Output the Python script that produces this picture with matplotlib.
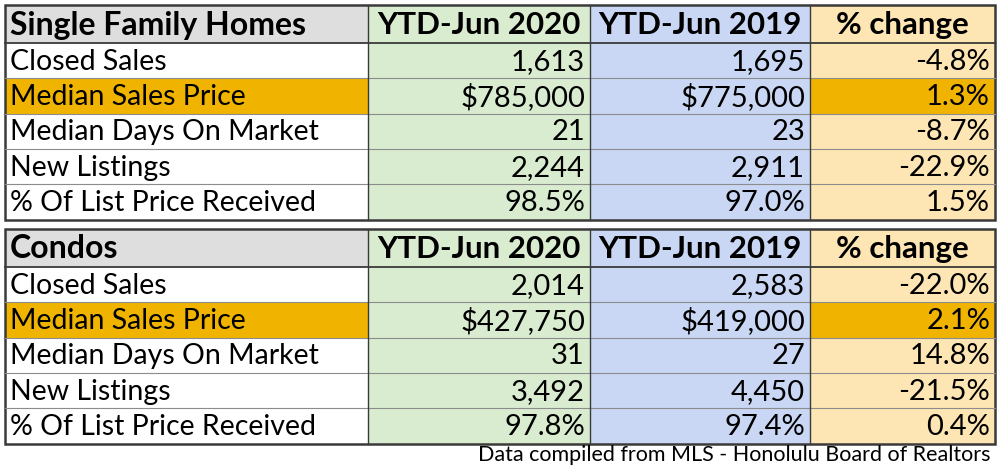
import matplotlib
matplotlib.use("Agg")
import matplotlib.pyplot as plt
from matplotlib.patches import Rectangle

plt.rcParams['font.family'] = ['Lato', 'DejaVu Sans']

columns = ["YTD-Jun 2020", "YTD-Jun 2019", "% change"]
metrics = ["Closed Sales", "Median Sales Price", "Median Days On Market",
           "New Listings", "% Of List Price Received"]
sfh_title = "Single Family Homes"
sfh_2020 = ["1,613", "$785,000", "21", "2,244", "98.5%"]
sfh_2019 = ["1,695", "$775,000", "23", "2,911", "97.0%"]
sfh_change = ["-4.8%", "1.3%", "-8.7%", "-22.9%", "1.5%"]
condo_title = "Condos"
condo_2020 = ["2,014", "$427,750", "31", "3,492", "97.8%"]
condo_2019 = ["2,583", "$419,000", "27", "4,450", "97.4%"]
condo_change = ["-22.0%", "2.1%", "14.8%", "-21.5%", "0.4%"]
footer = "Data compiled from MLS - Honolulu Board of Realtors"
highlight_row = "Median Sales Price"

# layout (pixels)
col_x = [5, 368, 590, 810, 995]
header_h = 38
row_h = 35.3
table_tops = [5, 229]

c_head = "#dedede"
c_green = "#d9ecd0"
c_blue = "#c9d7f4"
c_orange = "#fde6b3"
c_gold = "#f0b400"
c_line = "#3a3a3a"
c_thin = "#8c8c8c"

fig = plt.figure(figsize=(10, 4.7), dpi=100)
ax = fig.add_axes([0, 0, 1, 1])
ax.set_xlim(0, 1000)
ax.set_ylim(470, 0)
ax.axis('off')

col_colors = [c_green, c_blue, c_orange]

def draw_table(top, title, v20, v19, vch):
    hb = top + header_h
    ax.add_patch(Rectangle((col_x[0], top), col_x[1]-col_x[0], header_h, facecolor=c_head, edgecolor='none'))
    for j in range(3):
        ax.add_patch(Rectangle((col_x[j+1], top), col_x[j+2]-col_x[j+1], header_h, facecolor=col_colors[j], edgecolor='none'))
    ax.text(col_x[0]+5, top+header_h/2+1, title, fontsize=23, fontweight='bold', va='center', ha='left', color='black')
    for j, c in enumerate(columns):
        ax.text((col_x[j+1]+col_x[j+2])/2, top+header_h/2+1, c, fontsize=22.5, fontweight='bold', va='center', ha='center', color='black')
    vals = [v20, v19, vch]
    for i, m in enumerate(metrics):
        y0 = hb + i*row_h
        hl = (m == highlight_row)
        ax.add_patch(Rectangle((col_x[0], y0), col_x[1]-col_x[0], row_h, facecolor=c_gold if hl else 'white', edgecolor='none'))
        for j in range(3):
            fc = col_colors[j]
            if hl and j == 2:
                fc = c_gold
            ax.add_patch(Rectangle((col_x[j+1], y0), col_x[j+2]-col_x[j+1], row_h, facecolor=fc, edgecolor='none'))
        ax.text(col_x[0]+5, y0+row_h/2+1, m, fontsize=20.5, va='center', ha='left', color='black')
        for j in range(3):
            ax.text(col_x[j+2]-5, y0+row_h/2+1, vals[j][i], fontsize=21, va='center', ha='right', color='black')
        if i > 0:
            ax.plot([col_x[0], col_x[-1]], [y0, y0], color=c_thin, lw=0.8)
    bottom = hb + len(metrics)*row_h
    ax.plot([col_x[0], col_x[-1]], [hb, hb], color=c_line, lw=1.3)
    for x in col_x[1:-1]:
        ax.plot([x, x], [top, bottom], color=c_line, lw=1.0)
    ax.add_patch(Rectangle((col_x[0], top), col_x[-1]-col_x[0], bottom-top, facecolor='none', edgecolor=c_line, lw=1.8))

draw_table(table_tops[0], sfh_title, sfh_2020, sfh_2019, sfh_change)
draw_table(table_tops[1], condo_title, condo_2020, condo_2019, condo_change)

ax.text(col_x[-1]-5, 455, footer, fontsize=15.5, va='center', ha='right', color='black')

fig.savefig("out.png", dpi=100)
